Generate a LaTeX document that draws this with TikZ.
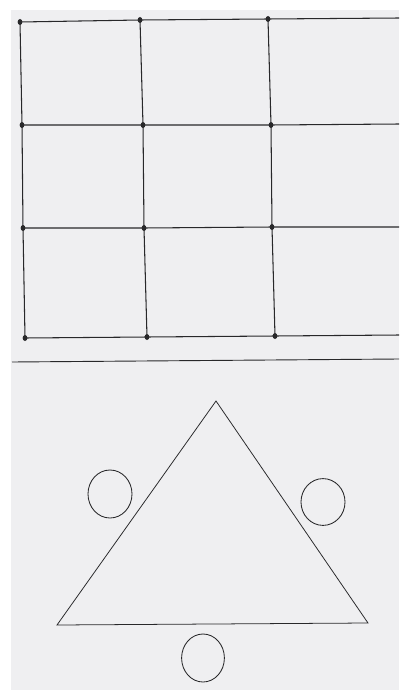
\documentclass[tikz,border=0pt]{standalone}
\usepackage{xcolor}
\usepackage{tikz}
\usetikzlibrary{shapes.geometric}

\definecolor{paper}{RGB}{239,239,241}
\definecolor{pen}{RGB}{40,40,42}

\begin{document}
\begin{tikzpicture}[
x=0.025cm,
y=-0.025cm,
gridpt/.style={ellipse,fill=pen,inner sep=0pt,minimum width=0.12cm,minimum height=0.15cm},
gridln/.style={draw=pen,line width=0.75pt},
shapeln/.style={draw=pen,line width=0.55pt},
ring/.style={ellipse,draw=pen,line width=0.6pt,inner sep=0pt}
]
% paper
\fill[white] (0,0) rectangle (399,690);
\fill[paper] (11,10) rectangle (399,690);

% grid points
\node[gridpt] (a1) at (20,22) {};
\node[gridpt] (a2) at (140,20) {};
\node[gridpt] (a3) at (268,19) {};
\node[gridpt] (b1) at (22,125) {};
\node[gridpt] (b2) at (143,125) {};
\node[gridpt] (b3) at (271,125) {};
\node[gridpt] (c1) at (23,228) {};
\node[gridpt] (c2) at (144,228) {};
\node[gridpt] (c3) at (272,227) {};
\node[gridpt] (d1) at (25,338) {};
\node[gridpt] (d2) at (147,337) {};
\node[gridpt] (d3) at (275,336) {};
\coordinate (a4) at (399,18);
\coordinate (b4) at (399,124);
\coordinate (c4) at (399,227);
\coordinate (d4) at (399,335);

% rows
\draw[gridln] (a1.center) -- (a2.center) -- (a3.center) -- (a4);
\draw[gridln] (b1.center) -- (b2.center) -- (b3.center) -- (b4);
\draw[gridln] (c1.center) -- (c2.center) -- (c3.center) -- (c4);
\draw[gridln] (d1.center) -- (d2.center) -- (d3.center) -- (d4);
% columns
\draw[gridln] (a1.center) -- (b1.center) -- (c1.center) -- (d1.center);
\draw[gridln] (a2.center) -- (b2.center) -- (c2.center) -- (d2.center);
\draw[gridln] (a3.center) -- (b3.center) -- (c3.center) -- (d3.center);

% divider
\coordinate (sepl) at (12,362);
\coordinate (sepr) at (399,359);
\draw[gridln,line width=0.65pt] (sepl) -- (sepr);

% triangle
\coordinate (top) at (216,401);
\coordinate (bl) at (57,625);
\coordinate (br) at (368,623);
\draw[shapeln] (top) -- (br) -- (bl) -- cycle;

% circles
\node[ring,minimum width=1.1cm,minimum height=1.2cm] (left) at (110,494) {};
\node[ring,minimum width=1.1cm,minimum height=1.17cm] (right) at (323,502) {};
\node[ring,minimum width=1.07cm,minimum height=1.2cm] (bottom) at (203,658) {};
\end{tikzpicture}
\end{document}
